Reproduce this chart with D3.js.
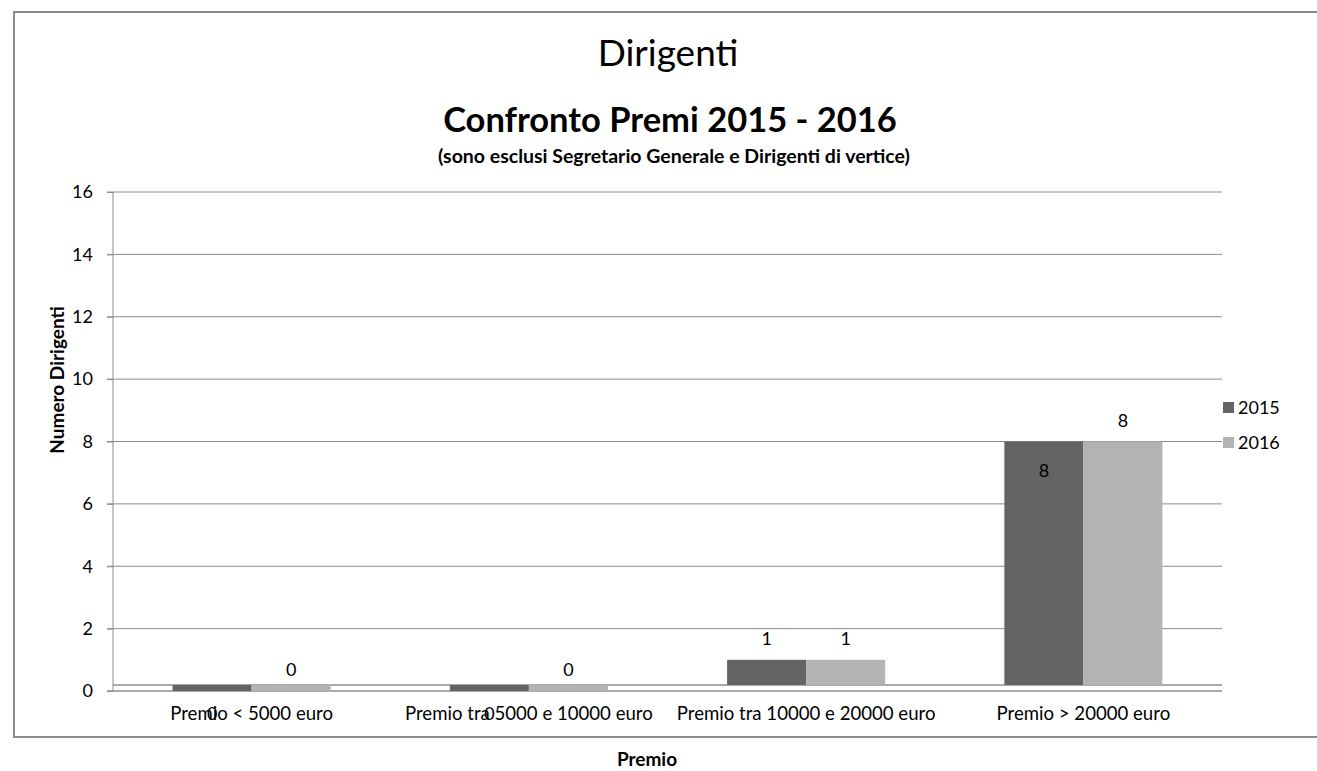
<!DOCTYPE html>
<html lang="it">
<head>
<meta charset="UTF-8">
<title>Dirigenti</title>
<script src="https://d3js.org/d3.v7.min.js"></script>
<style>
  body { margin: 0; background: white; font-family: 'Lato', sans-serif; }
  svg text { fill: black; }
</style>
</head>
<body>
<svg width="1317" height="771"></svg>
<script>
const categories = ["Premio < 5000 euro", "Premio tra 5000 e 10000 euro", "Premio tra 10000 e 20000 euro", "Premio > 20000 euro"];
const years = ["2015", "2016"];
const values2015 = [0, 0, 1, 8];
const values2016 = [0, 0, 1, 8];
const yTicks = [0, 2, 4, 6, 8, 10, 12, 14, 16];

const colors = {"2015": "#646464", "2016": "#b3b3b3"};
const series = [
  {year: "2015", values: values2015},
  {year: "2016", values: values2016}
];

const svg = d3.select("svg");
const plot = {left: 113, right: 1222, top: 192, bottom: 691};
const floorH = 6;

// frame
svg.append("rect")
  .attr("x", 14).attr("y", 12)
  .attr("width", 1340).attr("height", 725)
  .attr("fill", "none").attr("stroke", "#8c8c8c").attr("stroke-width", 2);

const x = d3.scaleBand().domain(categories).range([plot.left, plot.right]).paddingInner(0.43).paddingOuter(0.215);
const xs = d3.scaleBand().domain(years).range([0, x.bandwidth()]);
const y = d3.scaleLinear().domain([0, 16]).range([plot.bottom, plot.top]);

// gridlines
svg.append("g").selectAll("line")
  .data(yTicks.filter(d => d > 0))
  .join("line")
  .attr("x1", plot.left - 6).attr("x2", plot.right)
  .attr("y1", d => y(d)).attr("y2", d => y(d))
  .attr("stroke", "#8c8c8c").attr("stroke-width", 1);

// y axis
const yAxis = svg.append("g")
  .attr("transform", `translate(${plot.left},0)`)
  .call(d3.axisLeft(y).tickValues(yTicks).tickSize(6).tickPadding(14));
yAxis.select(".domain").remove();
yAxis.selectAll(".tick line").attr("stroke", "#8c8c8c");
yAxis.selectAll(".tick text").style("font-family", "Lato").style("font-size", "18px").attr("fill", "black");
svg.append("line")
  .attr("x1", plot.left).attr("x2", plot.left)
  .attr("y1", plot.top).attr("y2", plot.bottom)
  .attr("stroke", "#8c8c8c");

// floor
svg.append("line").attr("x1", plot.left).attr("x2", plot.right)
  .attr("y1", plot.bottom - floorH).attr("y2", plot.bottom - floorH)
  .attr("stroke", "#8c8c8c").attr("stroke-width", 1.5);
svg.append("line").attr("x1", plot.left - 6).attr("x2", plot.right)
  .attr("y1", plot.bottom).attr("y2", plot.bottom)
  .attr("stroke", "#8c8c8c").attr("stroke-width", 1.5);

// bars
series.forEach(s => {
  svg.append("g").selectAll("rect")
    .data(s.values.map((v, i) => ({cat: categories[i], v: v})))
    .join("rect")
    .attr("x", d => x(d.cat) + xs(s.year))
    .attr("width", xs.bandwidth())
    .attr("y", d => d.v > 0 ? y(d.v) : plot.bottom - floorH)
    .attr("height", d => d.v > 0 ? (plot.bottom - floorH) - y(d.v) : floorH)
    .attr("fill", colors[s.year]);
});

// value labels
series.forEach(s => {
  svg.append("g").selectAll("text")
    .data(s.values.map((v, i) => ({cat: categories[i], v: v})))
    .join("text")
    .attr("x", d => x(d.cat) + xs(s.year) + xs.bandwidth() / 2)
    .attr("y", d => {
      if (s.year === "2015" && d.v === 0) return y(0) + 29;
      if (s.year === "2015" && d.v >= 8) return y(d.v) + 35;
      return y(d.v) - 15;
    })
    .attr("text-anchor", "middle")
    .style("font-size", "18px")
    .text(d => d.v);
});

// category labels
svg.append("g").selectAll("text")
  .data(categories)
  .join("text")
  .attr("x", d => x(d) + x.bandwidth() / 2)
  .attr("y", 720)
  .attr("text-anchor", "middle")
  .style("font-size", "18.6px")
  .text(d => d);

// titles
svg.append("text").attr("x", 668).attr("y", 66).attr("text-anchor", "middle")
  .style("font-size", "37px").text("Dirigenti");
svg.append("text").attr("x", 670).attr("y", 132).attr("text-anchor", "middle")
  .style("font-size", "34.5px").style("font-weight", "bold").text("Confronto Premi 2015 - 2016");
svg.append("text").attr("x", 674).attr("y", 163).attr("text-anchor", "middle")
  .style("font-size", "19.5px").style("font-weight", "bold")
  .text("(sono esclusi Segretario Generale e Dirigenti di vertice)");
svg.append("text").attr("transform", "translate(64,380) rotate(-90)").attr("text-anchor", "middle")
  .style("font-size", "19px").style("font-weight", "bold").text("Numero Dirigenti");
svg.append("text").attr("x", 647).attr("y", 766).attr("text-anchor", "middle")
  .style("font-size", "19px").style("font-weight", "bold").text("Premio");

// legend
const legend = svg.append("g");
years.forEach((yr, i) => {
  const ly = 402 + i * 35;
  legend.append("rect").attr("x", 1223).attr("y", ly).attr("width", 11).attr("height", 11).attr("fill", colors[yr]);
  legend.append("text").attr("x", 1238).attr("y", ly + 12).style("font-size", "18px").text(yr);
});
</script>
</body>
</html>
